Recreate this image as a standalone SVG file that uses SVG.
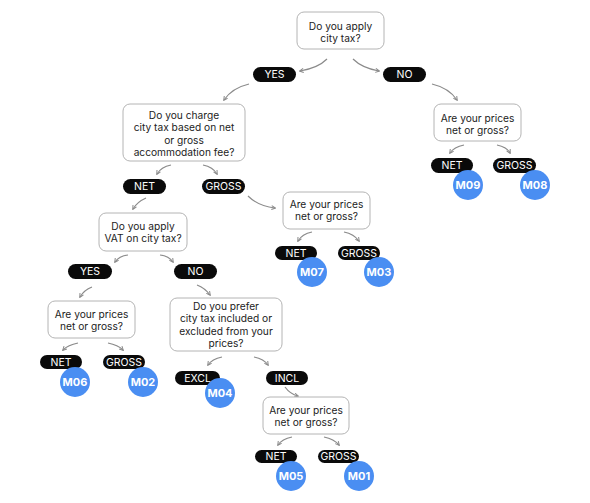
<svg xmlns="http://www.w3.org/2000/svg" width="590" height="503" viewBox="0 0 590 503">
<defs>
<style>
.box{fill:#fff;stroke:#b4b4b4;stroke-width:1}
.q{font-family:Inter,"Liberation Sans",sans-serif;font-size:10.2px;fill:#222;text-anchor:middle}
.pill{fill:#0a0a0a}
.pt{font-family:Inter,"Liberation Sans",sans-serif;font-size:10.5px;fill:#fff;text-anchor:middle}
.m{fill:#4a8ef2}
.mt{font-family:Inter,"Liberation Sans",sans-serif;font-size:11px;font-weight:700;fill:#fff;text-anchor:middle}
.c{fill:none;stroke:#8a8a8a;stroke-width:1.2;marker-end:url(#ah)}
</style>
<marker id="ah" viewBox="0 0 10 10" refX="8" refY="5" markerWidth="5" markerHeight="5" markerUnits="userSpaceOnUse" orient="auto">
<path d="M1,1 L9,5 L1,9" fill="none" stroke="#8a8a8a" stroke-width="2"/>
</marker>
</defs>
<rect width="590" height="503" fill="#fff"/>
<g id="connectors">
<path class="c" d="M327,59 Q318,68 300,71"/>
<path class="c" d="M353,59 Q362,68 379,71"/>
<path class="c" d="M249,84 Q232,88 224,100"/>
<path class="c" d="M432,84 Q449,88 457,100"/>
<path class="c" d="M171,165 Q161,167 157,174"/>
<path class="c" d="M203,165 Q213,167 217,174"/>
<path class="c" d="M464,145 Q454,147 450,153"/>
<path class="c" d="M497,145 Q507,147 510,153"/>
<path class="c" d="M146,198 Q137,202 133,209"/>
<path class="c" d="M248,196 Q258,206 275,208"/>
<path class="c" d="M128,255 Q119,256 115,262"/>
<path class="c" d="M160,255 Q169,256 173,262"/>
<path class="c" d="M312,232 Q302,234 298,241"/>
<path class="c" d="M344,232 Q354,234 359,241"/>
<path class="c" d="M92,287 Q84,290 80,297"/>
<path class="c" d="M197,285 Q205,288 210,295"/>
<path class="c" d="M78,343 Q68,345 63,350"/>
<path class="c" d="M108,343 Q118,345 123,350"/>
<path class="c" d="M222,357 Q212,359 208,365"/>
<path class="c" d="M254,357 Q264,359 268,365"/>
<path class="c" d="M285,387 Q290,394 298,396"/>
<path class="c" d="M292,437 Q282,439 278,445"/>
<path class="c" d="M324,437 Q334,439 339,445"/>
</g>
<g id="q1"><rect class="box" x="297" y="12" width="87" height="37" rx="7"/><text class="q" x="340.5" y="29.5">Do you apply</text><text class="q" x="340.5" y="41.8">city tax?</text></g>
<g id="yes1"><rect class="pill" x="253" y="67" width="43" height="15" rx="7.5"/><text class="pt" x="274.5" y="78.3">YES</text></g>
<g id="no1"><rect class="pill" x="383" y="67" width="43" height="15" rx="7.5"/><text class="pt" x="404.5" y="78.3">NO</text></g>
<g id="q2"><rect class="box" x="123" y="104" width="122" height="57" rx="7"/><text class="q" x="184" y="119">Do you charge</text><text class="q" x="184" y="131.3">city tax based on net</text><text class="q" x="184" y="143.6">or gross</text><text class="q" x="184" y="155.9">accommodation fee?</text></g>
<g id="q3"><rect class="box" x="434" y="104" width="87" height="37" rx="7"/><text class="q" x="477.5" y="121.5">Are your prices</text><text class="q" x="477.5" y="133.8">net or gross?</text></g>
<g id="net1"><rect class="pill" x="431" y="158" width="42" height="15" rx="7.5"/><text class="pt" x="452" y="169.3">NET</text></g>
<g id="gross1"><rect class="pill" x="493" y="158" width="43" height="15" rx="7.5"/><text class="pt" x="514.5" y="169.3">GROSS</text></g>
<g id="m09"><circle class="m" cx="468" cy="185" r="15"/><text class="mt" x="468" y="189">M09</text></g>
<g id="m08"><circle class="m" cx="535" cy="185" r="15"/><text class="mt" x="535" y="189">M08</text></g>
<g id="net2"><rect class="pill" x="123" y="179" width="43" height="15" rx="7.5"/><text class="pt" x="144.5" y="190.3">NET</text></g>
<g id="gross2"><rect class="pill" x="202" y="179" width="43" height="15" rx="7.5"/><text class="pt" x="223.5" y="190.3">GROSS</text></g>
<g id="q4"><rect class="box" x="99" y="213" width="88" height="38" rx="7"/><text class="q" x="143" y="230">Do you apply</text><text class="q" x="143" y="242.3">VAT on city tax?</text></g>
<g id="q5"><rect class="box" x="283" y="192" width="87" height="37" rx="7"/><text class="q" x="326.5" y="208">Are your prices</text><text class="q" x="326.5" y="220.3">net or gross?</text></g>
<g id="net3"><rect class="pill" x="275" y="246" width="42" height="14" rx="7"/><text class="pt" x="296" y="256.8">NET</text></g>
<g id="gross3"><rect class="pill" x="338" y="246" width="42" height="14" rx="7"/><text class="pt" x="359" y="256.8">GROSS</text></g>
<g id="m07"><circle class="m" cx="312" cy="272" r="15"/><text class="mt" x="312" y="276">M07</text></g>
<g id="m03"><circle class="m" cx="379" cy="272" r="15"/><text class="mt" x="379" y="276">M03</text></g>
<g id="yes2"><rect class="pill" x="68" y="264" width="44" height="15" rx="7.5"/><text class="pt" x="90" y="275.3">YES</text></g>
<g id="no2"><rect class="pill" x="174" y="264" width="43" height="15" rx="7.5"/><text class="pt" x="195.5" y="275.3">NO</text></g>
<g id="q6"><rect class="box" x="48" y="301" width="87" height="37" rx="7"/><text class="q" x="91.5" y="318">Are your prices</text><text class="q" x="91.5" y="330.3">net or gross?</text></g>
<g id="net4"><rect class="pill" x="40" y="355" width="42" height="14" rx="7"/><text class="pt" x="61" y="365.8">NET</text></g>
<g id="gross4"><rect class="pill" x="103" y="355" width="42" height="14" rx="7"/><text class="pt" x="124" y="365.8">GROSS</text></g>
<g id="m06"><circle class="m" cx="75" cy="382" r="15"/><text class="mt" x="75" y="386">M06</text></g>
<g id="m02"><circle class="m" cx="143" cy="382" r="15"/><text class="mt" x="143" y="386">M02</text></g>
<g id="q7"><rect class="box" x="170" y="298" width="112" height="53" rx="7"/><text class="q" x="226" y="310">Do you prefer</text><text class="q" x="226" y="322.3">city tax included or</text><text class="q" x="226" y="334.6">excluded from your</text><text class="q" x="226" y="346.9">prices?</text></g>
<g id="excl"><rect class="pill" x="175" y="371" width="45" height="14" rx="7"/><text class="pt" x="197.5" y="381.8">EXCL</text></g>
<g id="incl"><rect class="pill" x="266" y="371" width="42" height="14" rx="7"/><text class="pt" x="287" y="381.8">INCL</text></g>
<g id="m04"><circle class="m" cx="220" cy="393" r="15"/><text class="mt" x="220" y="397">M04</text></g>
<g id="q8"><rect class="box" x="263" y="397" width="86" height="37" rx="7"/><text class="q" x="306" y="414">Are your prices</text><text class="q" x="306" y="426.3">net or gross?</text></g>
<g id="net5"><rect class="pill" x="255" y="450" width="42" height="13" rx="6.5"/><text class="pt" x="276" y="460.3">NET</text></g>
<g id="gross5"><rect class="pill" x="318" y="450" width="41" height="13" rx="6.5"/><text class="pt" x="338.5" y="460.3">GROSS</text></g>
<g id="m05"><circle class="m" cx="291" cy="476" r="15"/><text class="mt" x="291" y="480">M05</text></g>
<g id="m01"><circle class="m" cx="359" cy="476" r="15"/><text class="mt" x="359" y="480">M01</text></g>
</svg>
